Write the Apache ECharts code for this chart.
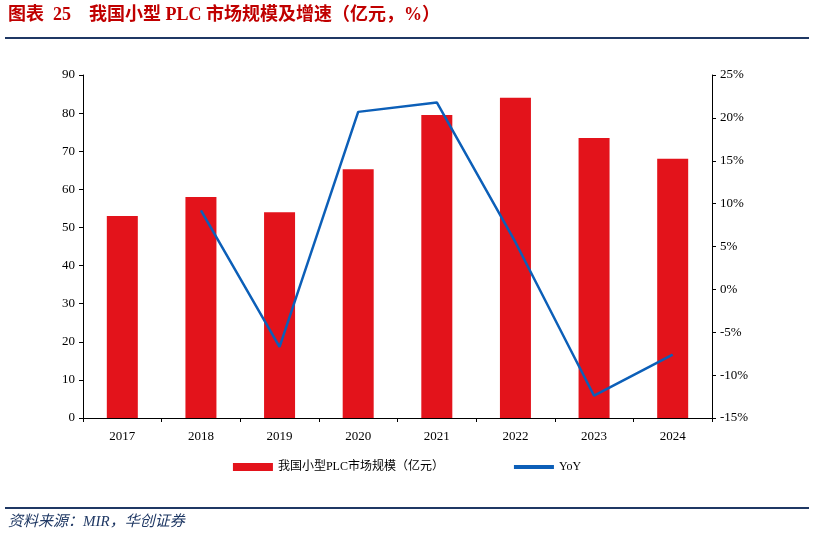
<!DOCTYPE html>
<html><head><meta charset="utf-8">
<script src="https://cdn.jsdelivr.net/npm/echarts@6/dist/echarts.min.js"></script>
<style>body{margin:0;background:#fff}#c{width:814px;height:540px}</style>
</head><body><div id="c"></div>
<script>
const categories=['2017','2018','2019','2020','2021','2022','2023','2024'];
const marketSize=[53,58,54,65.3,79.5,84,73.5,68];
const yoy=[null,9.2,-6.7,20.7,21.8,5.5,-12.4,-7.6];
const F='"Liberation Serif","Noto Sans CJK SC",serif';
const chart=echarts.init(document.getElementById('c'));
chart.setOption({
  animation:false,
  graphic:[
    {type:'text',left:8,top:6,style:{text:'图表  25    我国小型 PLC 市场规模及增速（亿元，%）',fill:'#c00000',font:'bold 18px '+F}},
    {type:'rect',shape:{x:5,y:37,width:804,height:2},style:{fill:'#1f3864'}},
    {type:'rect',shape:{x:5,y:507,width:804,height:2},style:{fill:'#1f3864'}},
    {type:'text',left:8,top:515,style:{text:'资料来源：MIR，华创证券',fill:'#1f3864',font:'italic 15px '+F}}
  ],
  legend:{bottom:62,left:'center',itemGap:70,textStyle:{fontFamily:F,fontSize:12,color:'#000'},
    data:[{name:'我国小型PLC市场规模（亿元）',icon:'rect',itemStyle:{}},{name:'YoY',icon:'path://M0,0H10V1H0Z'}],itemWidth:40,itemHeight:8},
  grid:{left:83,right:102,top:75,bottom:122},
  xAxis:{type:'category',data:categories,axisLine:{lineStyle:{color:'#000'}},axisTick:{show:true,length:4,lineStyle:{color:'#000'}},
    axisLabel:{color:'#000',fontFamily:F,fontSize:13,margin:12}},
  yAxis:[
    {type:'value',min:0,max:90,interval:10,splitLine:{show:false},axisLine:{show:true,lineStyle:{color:'#000'}},
     axisTick:{show:true,length:4},axisLabel:{color:'#000',fontFamily:F,fontSize:13}},
    {type:'value',min:-15,max:25,interval:5,splitLine:{show:false},axisLine:{show:true,lineStyle:{color:'#000'}},
     axisTick:{show:true,length:4},axisLabel:{color:'#000',fontFamily:F,fontSize:13,formatter:'{value}%'}}
  ],
  series:[
    {name:'我国小型PLC市场规模（亿元）',type:'bar',data:marketSize,barWidth:31,itemStyle:{color:'#e3131b'}},
    {name:'YoY',type:'line',yAxisIndex:1,data:yoy,symbol:'none',lineStyle:{color:'#0c5fb8',width:2.5},itemStyle:{color:'#0c5fb8'}}
  ]
});
</script></body></html>
